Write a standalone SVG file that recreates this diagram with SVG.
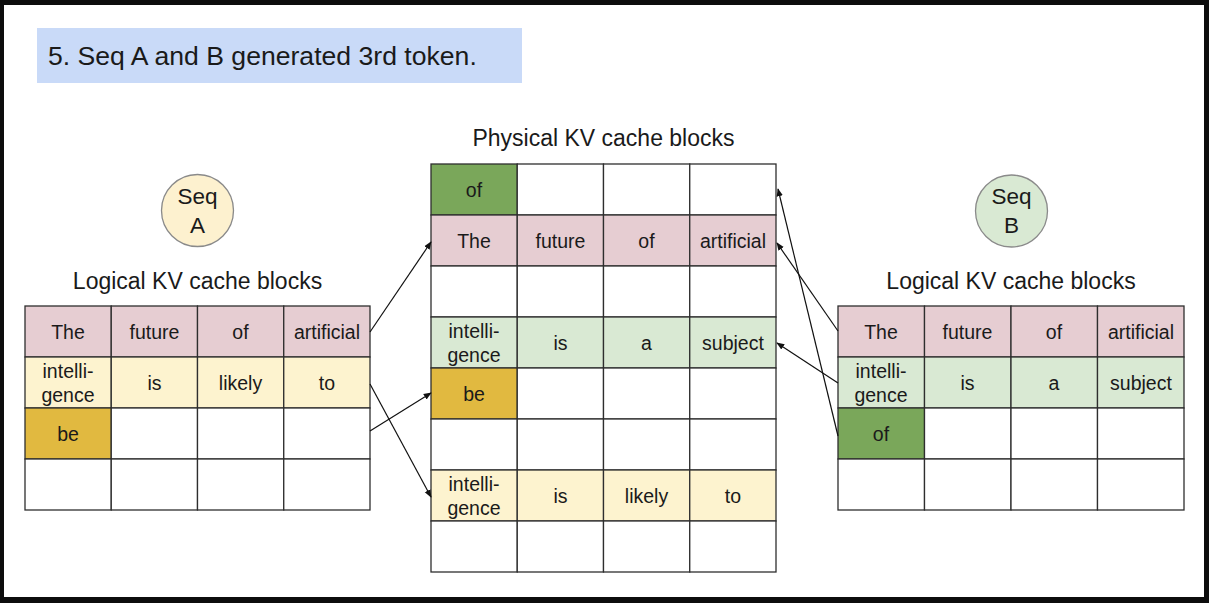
<svg xmlns="http://www.w3.org/2000/svg" width="1209" height="603" viewBox="0 0 1209 603">
<defs>
<marker id="ah" viewBox="0 0 10 10" refX="9" refY="5" markerWidth="8" markerHeight="8" markerUnits="userSpaceOnUse" orient="auto">
<path d="M0,1 L10,5 L0,9 z" fill="#111"/>
</marker>
<style>
.t{font-family:"Liberation Sans",Arial,sans-serif;fill:#1a1a1a;text-anchor:middle;dominant-baseline:central}
.c{font-size:19.5px}
.s{font-size:22.5px}
.h{font-size:23px}
.cell{stroke:#2e2e2e;stroke-width:1.3}
.w{fill:#ffffff}
.pk{fill:#e6cdd2}
.ly{fill:#fdf3cf}
.dy{fill:#e1b940}
.lg{fill:#d9e9d3}
.dg{fill:#7aa75a}
.conn{stroke:#111;stroke-width:1.2;fill:none;marker-end:url(#ah)}
</style>
</defs>
<rect x="0" y="0" width="1209" height="603" fill="#0d0d0d"/>
<rect x="4" y="5" width="1200" height="592" fill="#ffffff"/>

<g id="title">
<rect x="37" y="28" width="485" height="55" fill="#c9daf8"/>
<text x="48" y="56" class="t" style="text-anchor:start;font-size:26.6px">5. Seq A and B generated 3rd token.</text>
</g>

<g id="seqA">
<circle cx="197.5" cy="210.5" r="36" fill="#fdf1cf" stroke="#8a8a8a" stroke-width="1.3"/>
<text x="197.5" y="196" class="t s">Seq</text>
<text x="197.5" y="225" class="t s">A</text>
</g>
<g id="seqB">
<circle cx="1011.5" cy="211" r="36" fill="#d9e9d3" stroke="#8a8a8a" stroke-width="1.3"/>
<text x="1011.5" y="196.5" class="t s">Seq</text>
<text x="1011.5" y="225.5" class="t s">B</text>
</g>

<g id="labels">
<text x="197.5" y="281" class="t h">Logical KV cache blocks</text>
<text x="1011" y="281" class="t h">Logical KV cache blocks</text>
<text x="603.5" y="138" class="t h">Physical KV cache blocks</text>
</g>

<g id="logicalA">
<rect class="cell pk" x="25" y="306" width="86.25" height="51"/>
<rect class="cell pk" x="111.25" y="306" width="86.25" height="51"/>
<rect class="cell pk" x="197.5" y="306" width="86.25" height="51"/>
<rect class="cell pk" x="283.75" y="306" width="86.25" height="51"/>
<rect class="cell ly" x="25" y="357" width="86.25" height="51"/>
<rect class="cell ly" x="111.25" y="357" width="86.25" height="51"/>
<rect class="cell ly" x="197.5" y="357" width="86.25" height="51"/>
<rect class="cell ly" x="283.75" y="357" width="86.25" height="51"/>
<rect class="cell dy" x="25" y="408" width="86.25" height="51"/>
<rect class="cell w" x="111.25" y="408" width="86.25" height="51"/>
<rect class="cell w" x="197.5" y="408" width="86.25" height="51"/>
<rect class="cell w" x="283.75" y="408" width="86.25" height="51"/>
<rect class="cell w" x="25" y="459" width="86.25" height="51"/>
<rect class="cell w" x="111.25" y="459" width="86.25" height="51"/>
<rect class="cell w" x="197.5" y="459" width="86.25" height="51"/>
<rect class="cell w" x="283.75" y="459" width="86.25" height="51"/>
<text class="t c" x="68" y="332">The</text>
<text class="t c" x="154.5" y="332">future</text>
<text class="t c" x="240.5" y="332">of</text>
<text class="t c" x="327" y="332">artificial</text>
<text class="t c" x="68" y="371">intelli-</text>
<text class="t c" x="68" y="395">gence</text>
<text class="t c" x="154.5" y="383">is</text>
<text class="t c" x="240.5" y="383">likely</text>
<text class="t c" x="327" y="383">to</text>
<text class="t c" x="68" y="434">be</text>
</g>

<g id="physical">
<rect class="cell dg" x="431" y="164" width="86.25" height="51"/>
<rect class="cell w" x="517.25" y="164" width="86.25" height="51"/>
<rect class="cell w" x="603.5" y="164" width="86.25" height="51"/>
<rect class="cell w" x="689.75" y="164" width="86.25" height="51"/>
<rect class="cell pk" x="431" y="215" width="86.25" height="51"/>
<rect class="cell pk" x="517.25" y="215" width="86.25" height="51"/>
<rect class="cell pk" x="603.5" y="215" width="86.25" height="51"/>
<rect class="cell pk" x="689.75" y="215" width="86.25" height="51"/>
<rect class="cell w" x="431" y="266" width="86.25" height="51"/>
<rect class="cell w" x="517.25" y="266" width="86.25" height="51"/>
<rect class="cell w" x="603.5" y="266" width="86.25" height="51"/>
<rect class="cell w" x="689.75" y="266" width="86.25" height="51"/>
<rect class="cell lg" x="431" y="317" width="86.25" height="51"/>
<rect class="cell lg" x="517.25" y="317" width="86.25" height="51"/>
<rect class="cell lg" x="603.5" y="317" width="86.25" height="51"/>
<rect class="cell lg" x="689.75" y="317" width="86.25" height="51"/>
<rect class="cell dy" x="431" y="368" width="86.25" height="51"/>
<rect class="cell w" x="517.25" y="368" width="86.25" height="51"/>
<rect class="cell w" x="603.5" y="368" width="86.25" height="51"/>
<rect class="cell w" x="689.75" y="368" width="86.25" height="51"/>
<rect class="cell w" x="431" y="419" width="86.25" height="51"/>
<rect class="cell w" x="517.25" y="419" width="86.25" height="51"/>
<rect class="cell w" x="603.5" y="419" width="86.25" height="51"/>
<rect class="cell w" x="689.75" y="419" width="86.25" height="51"/>
<rect class="cell ly" x="431" y="470" width="86.25" height="51"/>
<rect class="cell ly" x="517.25" y="470" width="86.25" height="51"/>
<rect class="cell ly" x="603.5" y="470" width="86.25" height="51"/>
<rect class="cell ly" x="689.75" y="470" width="86.25" height="51"/>
<rect class="cell w" x="431" y="521" width="86.25" height="51"/>
<rect class="cell w" x="517.25" y="521" width="86.25" height="51"/>
<rect class="cell w" x="603.5" y="521" width="86.25" height="51"/>
<rect class="cell w" x="689.75" y="521" width="86.25" height="51"/>
<text class="t c" x="474" y="190">of</text>
<text class="t c" x="474" y="241">The</text>
<text class="t c" x="560.5" y="241">future</text>
<text class="t c" x="646.5" y="241">of</text>
<text class="t c" x="733" y="241">artificial</text>
<text class="t c" x="474" y="331">intelli-</text>
<text class="t c" x="474" y="355">gence</text>
<text class="t c" x="560.5" y="343">is</text>
<text class="t c" x="646.5" y="343">a</text>
<text class="t c" x="733" y="343">subject</text>
<text class="t c" x="474" y="394">be</text>
<text class="t c" x="474" y="484">intelli-</text>
<text class="t c" x="474" y="508">gence</text>
<text class="t c" x="560.5" y="496">is</text>
<text class="t c" x="646.5" y="496">likely</text>
<text class="t c" x="733" y="496">to</text>
</g>

<g id="logicalB">
<rect class="cell pk" x="838" y="306" width="86.5" height="51"/>
<rect class="cell pk" x="924.5" y="306" width="86.5" height="51"/>
<rect class="cell pk" x="1011" y="306" width="86.5" height="51"/>
<rect class="cell pk" x="1097.5" y="306" width="86.5" height="51"/>
<rect class="cell lg" x="838" y="357" width="86.5" height="51"/>
<rect class="cell lg" x="924.5" y="357" width="86.5" height="51"/>
<rect class="cell lg" x="1011" y="357" width="86.5" height="51"/>
<rect class="cell lg" x="1097.5" y="357" width="86.5" height="51"/>
<rect class="cell dg" x="838" y="408" width="86.5" height="51"/>
<rect class="cell w" x="924.5" y="408" width="86.5" height="51"/>
<rect class="cell w" x="1011" y="408" width="86.5" height="51"/>
<rect class="cell w" x="1097.5" y="408" width="86.5" height="51"/>
<rect class="cell w" x="838" y="459" width="86.5" height="51"/>
<rect class="cell w" x="924.5" y="459" width="86.5" height="51"/>
<rect class="cell w" x="1011" y="459" width="86.5" height="51"/>
<rect class="cell w" x="1097.5" y="459" width="86.5" height="51"/>
<text class="t c" x="881" y="332">The</text>
<text class="t c" x="967.5" y="332">future</text>
<text class="t c" x="1054" y="332">of</text>
<text class="t c" x="1141" y="332">artificial</text>
<text class="t c" x="881" y="371">intelli-</text>
<text class="t c" x="881" y="395">gence</text>
<text class="t c" x="967.5" y="383">is</text>
<text class="t c" x="1054" y="383">a</text>
<text class="t c" x="1141" y="383">subject</text>
<text class="t c" x="881" y="434">of</text>
</g>

<g id="connectors">
<line class="conn" x1="370" y1="332" x2="431" y2="242"/>
<line class="conn" x1="370" y1="384" x2="431" y2="497"/>
<line class="conn" x1="370" y1="431" x2="431" y2="393"/>
<line class="conn" x1="838" y1="331" x2="777" y2="243"/>
<line class="conn" x1="838" y1="383" x2="777" y2="343"/>
<line class="conn" x1="838" y1="436" x2="778" y2="189"/>
</g>
</svg>
